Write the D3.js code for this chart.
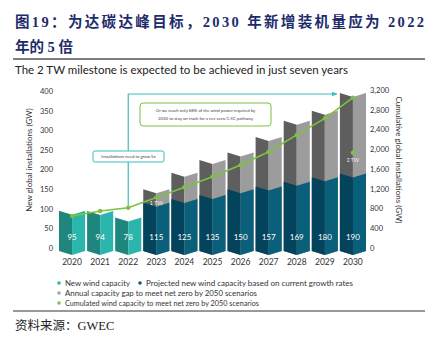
<!DOCTYPE html>
<html>
<head>
<meta charset="utf-8">
<script src="https://cdn.jsdelivr.net/npm/d3@7"></script>
<style>
html,body{margin:0;padding:0;background:#fff;}
svg{display:block;}
</style>
</head>
<body>
<div id="chart"></div>
<script>
const years=["2020","2021","2022","2023","2024","2025","2026","2027","2028","2029","2030"];
const newWind=[95,94,78,115,125,135,150,157,169,180,190];
const gapVals=[0,0,0,35,67,89,93,126,155,170,205];
const cumulated=[650,750,815,1025,1230,1445,1680,1950,2290,2625,3045];
const leftTicks=[0,50,100,150,200,250,300,350,400];
const rightTicks=[0,400,800,1200,1600,2000,2400,2800,3200];
const projectedFrom="2023";

const W=435,H=346;
const font="Lato, 'Noto Sans', sans-serif";
const svg=d3.select("#chart").append("svg").attr("width",W).attr("height",H);

// header
svg.append("text").attr("x",15).attr("y",27)
  .attr("font-family","'Liberation Serif','Noto Sans CJK SC',serif")
  .attr("font-weight","bold").attr("font-size",14.5).attr("fill","#1d2b6b")
  .attr("textLength",409).attr("lengthAdjust","spacing")
  .text("图19：为达碳达峰目标，2030 年新增装机量应为 2022");
svg.append("text").attr("x",15).attr("y",52)
  .attr("font-family","'Liberation Serif','Noto Sans CJK SC',serif")
  .attr("font-weight","bold").attr("font-size",14.5).attr("fill","#1d2b6b")
  .text("年的 5 倍");
svg.append("line").attr("x1",13).attr("x2",425).attr("y1",59).attr("y2",59)
  .attr("stroke","#555").attr("stroke-width",1.5);

svg.append("text").attr("x",15).attr("y",74)
  .attr("font-family",font).attr("font-size",11).attr("fill","#222")
  .attr("textLength",333).attr("lengthAdjust","spacingAndGlyphs")
  .text("The 2 TW milestone is expected to be achieved in just seven years");

// scales
const x=d3.scaleBand().domain(years).range([59,366]).paddingInner(0.07);
const yL=d3.scaleLinear().domain([0,400]).range([248,91]);
const yR=d3.scaleLinear().domain([0,3200]).range([248,90]);
const cx=d=>x(d)+x.bandwidth()/2;

// axes
const axL=svg.append("g").attr("transform","translate(56,0)")
  .call(d3.axisLeft(yL).tickValues(leftTicks).tickSize(0).tickPadding(3));
const axR=svg.append("g").attr("transform","translate(367,0)")
  .call(d3.axisRight(yR).tickValues(rightTicks).tickSize(0).tickPadding(3).tickFormat(d3.format(",")));
[axL,axR].forEach(a=>{
  a.select(".domain").remove();
  a.selectAll("text").attr("font-family",font).attr("font-size",7.5).attr("fill","#333");
});
svg.append("text").attr("transform","translate(32,160) rotate(-90)")
  .attr("text-anchor","middle").attr("font-family",font).attr("font-size",8).attr("fill","#333")
  .text("New global installations (GW)");
svg.append("text").attr("transform","translate(396,160) rotate(90)")
  .attr("text-anchor","middle").attr("font-family",font).attr("font-size",8).attr("fill","#333")
  .text("Cumulative global installations (GW)");

// year labels
svg.append("g").selectAll("text").data(years).enter().append("text")
  .attr("x",d=>cx(d)).attr("y",265).attr("text-anchor","middle")
  .attr("font-family",font).attr("font-size",8.5).attr("fill","#333")
  .text(d=>d);

// folded bar halves
const dip=4;
function halfPath(d,v,side){
  const x0=x(d),x1=x(d)+x.bandwidth(),xm=cx(d);
  const yt=yL(v),yb=yL(0)+3;
  if(side==="l") return `M${x0},${yt}L${xm},${yt+dip}L${xm},${yb+dip}L${x0},${yb}Z`;
  return `M${xm},${yt+dip}L${x1},${yt}L${x1},${yb}L${xm},${yb+dip}Z`;
}
const rows=years.map((y,i)=>({year:y,n:newWind[i],gap:gapVals[i],proj:+y>=+projectedFrom}));
const bars=svg.append("g");
rows.forEach(r=>{
  if(r.gap>0){
    bars.append("path").attr("d",halfPath(r.year,r.n+r.gap,"l")).attr("fill","#5e5e5e");
    bars.append("path").attr("d",halfPath(r.year,r.n+r.gap,"r")).attr("fill","#9c9c9c");
  }
  bars.append("path").attr("d",halfPath(r.year,r.n,"l")).attr("fill",r.proj?"#03435b":"#1e867d");
  bars.append("path").attr("d",halfPath(r.year,r.n,"r")).attr("fill",r.proj?"#0a5f7b":"#2bb6ad");
});
svg.append("g").selectAll("text").data(rows).enter().append("text")
  .attr("x",d=>cx(d.year)).attr("y",240).attr("text-anchor","middle")
  .attr("font-family",font).attr("font-size",8).attr("fill","#fff")
  .text(d=>d.n);

// teal milestone path
const tealX=cx("2022");
svg.append("defs").append("marker").attr("id","arr").attr("viewBox","0 0 10 10")
  .attr("refX",9).attr("refY",5).attr("markerWidth",5).attr("markerHeight",5).attr("orient","auto")
  .append("path").attr("d","M0,1L10,5L0,9Z").attr("fill","#3fbdbd");
svg.append("path")
  .attr("d",`M${tealX},${yR(cumulated[2])}L${tealX},94L${cx("2030")-16},94`)
  .attr("fill","none").attr("stroke","#3fbdbd").attr("stroke-width",1.2)
  .attr("marker-end","url(#arr)");

// green line
const line=d3.line().x((d,i)=>cx(years[i])).y(d=>yR(d));
svg.append("path").datum(cumulated).attr("d",line)
  .attr("fill","none").attr("stroke","#7cc242").attr("stroke-width",1.6);
svg.append("g").selectAll("circle").data(cumulated).enter().append("circle")
  .attr("cx",(d,i)=>cx(years[i])).attr("cy",d=>yR(d)).attr("r",2.2).attr("fill","#7cc242");
svg.append("circle").attr("cx",cx("2030")).attr("cy",yR(1930)).attr("r",2.2).attr("fill","#7cc242");
svg.append("text").attr("x",cx("2030")).attr("y",yR(1930)+9).attr("text-anchor","middle")
  .attr("font-family",font).attr("font-size",5).attr("fill","#eee").text("2 TW");
svg.append("text").attr("x",cx("2023")).attr("y",yR(cumulated[3])+7.5).attr("text-anchor","middle")
  .attr("font-family",font).attr("font-size",5.5).attr("fill","#eee").text("1 TW");

// callouts
svg.append("rect").attr("x",93).attr("y",151).attr("width",71).attr("height",11).attr("rx",2)
  .attr("fill","#fff").attr("stroke","#3fbdbd").attr("stroke-width",1);
svg.append("text").attr("x",128.5).attr("y",158).attr("text-anchor","middle")
  .attr("font-family",font).attr("font-size",4.3).attr("fill","#444")
  .text("Installations need to grow 5x");
svg.append("rect").attr("x",140).attr("y",103).attr("width",131).attr("height",23).attr("rx",3)
  .attr("fill","#fff").attr("stroke","#7cc242").attr("stroke-width",1);
svg.append("text").attr("x",205.5).attr("y",111.5).attr("text-anchor","middle")
  .attr("font-family",font).attr("font-size",4.3).attr("fill","#444")
  .text("Or we reach only 68% of the wind power required by");
svg.append("text").attr("x",205.5).attr("y",119.5).attr("text-anchor","middle")
  .attr("font-family",font).attr("font-size",4.3).attr("fill","#444")
  .text("2030 to stay on track for a net-zero/1.5C pathway");

// legend
const legend=[
  {t:"New wind capacity",c:"#2bb6ad",x:59,y:283,w:65},
  {t:"Projected new wind capacity based on current growth rates",c:"#0a5f7b",x:140,y:283,w:207},
  {t:"Annual capacity gap to meet net zero by 2050 scenarios",c:"#a3a3a3",x:59,y:293,w:192},
  {t:"Cumulated wind capacity to meet net zero by 2050 scenarios",c:"#7cc242",x:59,y:303,w:194}
];
const lg=svg.append("g").selectAll("g").data(legend).enter().append("g");
lg.append("circle").attr("cx",d=>d.x).attr("cy",d=>d.y).attr("r",1.8).attr("fill",d=>d.c);
lg.append("text").attr("x",d=>d.x+6).attr("y",d=>d.y+2.5)
  .attr("font-family",font).attr("font-size",7.4).attr("fill","#333")
  .attr("textLength",d=>d.w).attr("lengthAdjust","spacingAndGlyphs").text(d=>d.t);

svg.append("line").attr("x1",13).attr("x2",425).attr("y1",311).attr("y2",311)
  .attr("stroke","#333").attr("stroke-width",1);
svg.append("text").attr("x",15).attr("y",330)
  .attr("font-family","'Liberation Serif','Noto Sans CJK SC',serif")
  .attr("font-size",12.5).attr("fill","#222")
  .text("资料来源：GWEC");
</script>
</body>
</html>
